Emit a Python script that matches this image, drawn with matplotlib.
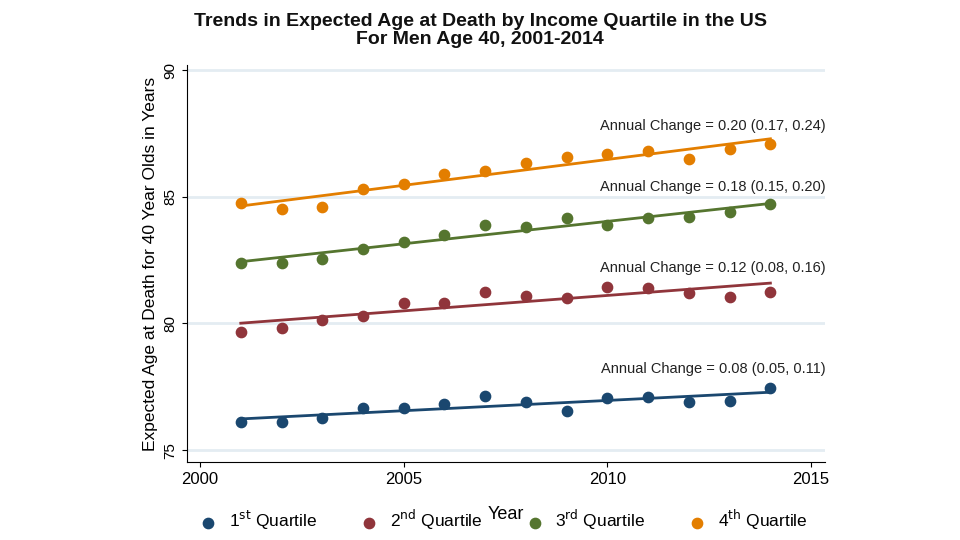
import numpy as np
import matplotlib.pyplot as plt

plt.rcParams['font.family'] = ['Liberation Sans', 'DejaVu Sans']

years = list(range(2001, 2015))
q1 = [76.1, 76.1, 76.25, 76.65, 76.65, 76.8, 77.15, 76.9, 76.55, 77.05, 77.1, 76.9, 76.95, 77.45]
q2 = [79.65, 79.8, 80.15, 80.3, 80.8, 80.8, 81.25, 81.1, 81.0, 81.45, 81.4, 81.2, 81.05, 81.25]
q3 = [82.4, 82.4, 82.55, 82.95, 83.2, 83.5, 83.9, 83.8, 84.15, 83.9, 84.15, 84.2, 84.4, 84.7]
q4 = [84.75, 84.5, 84.6, 85.3, 85.5, 85.9, 86.0, 86.35, 86.55, 86.7, 86.8, 86.5, 86.9, 87.1]
labels = ["1$^{\\mathrm{st}}$ Quartile", "2$^{\\mathrm{nd}}$ Quartile",
          "3$^{\\mathrm{rd}}$ Quartile", "4$^{\\mathrm{th}}$ Quartile"]
changes = ["Annual Change = 0.08 (0.05, 0.11)", "Annual Change = 0.12 (0.08, 0.16)",
           "Annual Change = 0.18 (0.15, 0.20)", "Annual Change = 0.20 (0.17, 0.24)"]
change_y = [78.2, 82.2, 85.4, 87.8]
colors = ["#1a476f", "#90353b", "#55752f", "#e37e00"]

fig = plt.figure(figsize=(9.6, 5.4), dpi=100)
ax = fig.add_axes([187 / 960, 78 / 540, 638 / 960, 397 / 540])
x = np.array(years)
for vals, lbl, clr, txt, ty in zip([q1, q2, q3, q4], labels, colors, changes, change_y):
    ax.scatter(x, vals, s=55, color=clr, label=lbl, zorder=3)
    b, a = np.polyfit(x, vals, 1)
    ax.plot(x, a + b * x, color=clr, lw=2, zorder=2)
    ax.text(2015.35, ty, txt, ha="right", va="center", fontsize=10.5, color="#222222")

ax.set_xlim(1999.68, 2015.34)
ax.set_ylim(74.53, 90.2)
ax.set_xticks([2000, 2005, 2010, 2015])
ax.set_yticks([75, 80, 85, 90])
ax.tick_params(axis="y", labelrotation=90, labelsize=11)
ax.tick_params(axis="x", labelsize=12)
for lb in ax.get_yticklabels():
    lb.set_va("center")
ax.grid(axis="y", color="#e4ecf2", lw=2)
ax.set_axisbelow(True)
for s in ["top", "right"]:
    ax.spines[s].set_visible(False)
ax.set_xlabel("Year", fontsize=13, labelpad=14)
ax.set_ylabel("Expected Age at Death for 40 Year Olds in Years", fontsize=12.5)
fig.text(0.5, 0.943, "Trends in Expected Age at Death by Income Quartile in the US\nFor Men Age 40, 2001-2014",
         ha="center", va="center", fontsize=14, fontweight="bold", color="#111111", linespacing=1.1)
fig.legend(loc="lower center", bbox_to_anchor=(0.52, -0.015), ncol=4, frameon=False, fontsize=12.5,
           handletextpad=0.2, columnspacing=2.0)
fig.savefig("out.png")
